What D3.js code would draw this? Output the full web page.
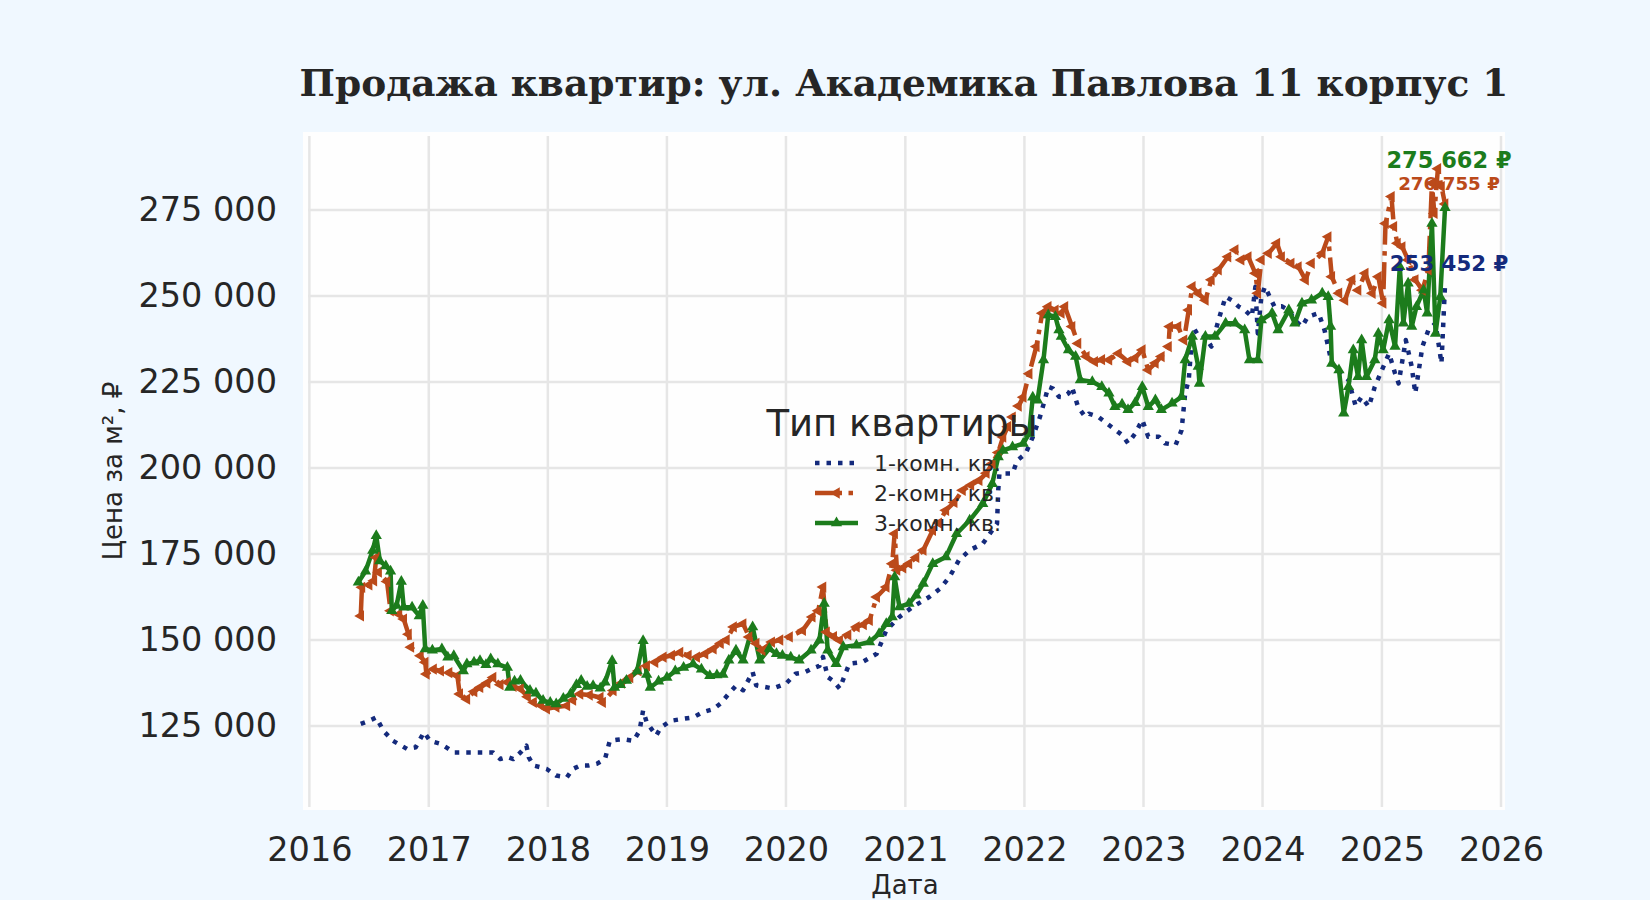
<!DOCTYPE html>
<html>
<head>
<meta charset="utf-8">
<script src="https://cdn.jsdelivr.net/npm/d3@7"></script>
<style>
  html, body { margin: 0; padding: 0; background: #f0f8ff; }
  svg { display: block; }
</style>
</head>
<body>
<svg id="chart" width="1650" height="900"></svg>
<script>
// series: [decimal year, price per m2]
const oneRoom = [
  [2016.43,125600],[2016.47,126100],[2016.53,127000],[2016.56,127500],[2016.62,123600],[2016.70,120700],
  [2016.76,119500],[2016.82,118300],[2016.89,118800],[2016.96,123200],[2017.01,120700],[2017.10,119800],
  [2017.16,118500],[2017.21,117300],[2017.32,117300],[2017.43,117300],[2017.54,117300],[2017.60,115400],
  [2017.66,116000],[2017.71,115400],[2017.77,117300],[2017.82,119300],[2017.84,115900],[2017.88,113500],
  [2017.94,113000],[2017.99,112500],[2018.07,110600],[2018.16,110100],[2018.21,112500],[2018.27,113500],
  [2018.34,113500],[2018.41,114000],[2018.48,115400],[2018.52,120700],[2018.58,121000],[2018.63,121200],
  [2018.72,120700],[2018.77,123600],[2018.80,129500],[2018.83,126100],[2018.91,122200],[2018.95,124600],
  [2019.03,126500],[2019.12,127000],[2019.22,127500],[2019.30,129000],[2019.39,129900],[2019.45,131500],
  [2019.52,134400],[2019.58,136700],[2019.64,135400],[2019.72,140700],[2019.75,136800],[2019.89,135900],
  [2020.00,137300],[2020.08,140200],[2020.15,140500],[2020.22,141700],[2020.28,142500],[2020.31,145100],
  [2020.35,139200],[2020.40,138000],[2020.45,135900],[2020.53,143100],[2020.64,143600],[2020.76,146000],
  [2020.84,152800],[2020.95,156700],[2021.06,159600],[2021.20,162500],[2021.29,164900],[2021.37,168300],
  [2021.45,173200],[2021.54,176100],[2021.65,178000],[2021.73,181900],[2021.77,183800],[2021.78,193500],
  [2021.79,198400],[2021.90,198400],[2021.94,202200],[2022.01,204200],[2022.07,209000],[2022.13,214800],
  [2022.17,219700],[2022.20,223600],[2022.24,223100],[2022.29,220700],[2022.32,220600],[2022.37,221700],
  [2022.40,223500],[2022.45,217800],[2022.51,214900],[2022.54,215800],[2022.62,214900],[2022.71,212500],
  [2022.82,209600],[2022.87,207200],[2022.93,210000],[2022.99,214000],[2023.04,209100],[2023.13,209100],
  [2023.18,207200],[2023.27,206700],[2023.32,211000],[2023.35,221700],[2023.38,225600],[2023.41,239100],
  [2023.46,240100],[2023.52,238000],[2023.57,235300],[2023.63,243000],[2023.69,249800],[2023.74,248800],
  [2023.80,246900],[2023.85,245900],[2023.91,244000],[2023.94,252700],[2023.96,239100],[2023.99,249800],
  [2024.02,252700],[2024.10,246900],[2024.16,247000],[2024.22,245900],[2024.27,243000],[2024.33,241100],
  [2024.38,244000],[2024.47,245000],[2024.52,240000],[2024.58,230400],[2024.65,228000],[2024.72,225600],
  [2024.78,218000],[2024.83,220700],[2024.89,217800],[2024.94,223600],[2025.00,228500],[2025.06,233300],
  [2025.11,227500],[2025.14,224600],[2025.20,237200],[2025.25,229500],[2025.28,221700],[2025.34,235300],
  [2025.39,240100],[2025.45,242100],[2025.50,230400],[2025.53,253452]
];

const twoRoom = [
  [2016.43,157000],[2016.44,165300],[2016.50,166000],[2016.54,167200],[2016.56,174000],[2016.58,169700],
  [2016.65,167000],[2016.68,158500],[2016.75,157500],[2016.79,156100],[2016.83,151700],[2016.85,147900],
  [2016.93,145400],[2016.97,143500],[2016.98,140100],[2017.04,141500],[2017.10,141000],[2017.17,140500],
  [2017.24,139600],[2017.26,134300],[2017.32,132800],[2017.38,135000],[2017.43,136200],[2017.49,137500],
  [2017.54,139100],[2017.60,137000],[2017.66,137700],[2017.71,136500],[2017.77,135800],[2017.83,133500],
  [2017.88,131900],[2017.94,131000],[2017.99,130000],[2018.07,130500],[2018.16,130900],[2018.21,132500],
  [2018.27,134300],[2018.35,134000],[2018.44,133300],[2018.46,131900],[2018.55,135300],[2018.62,137500],
  [2018.69,139100],[2018.76,141000],[2018.83,142500],[2018.90,143500],[2018.97,145000],[2019.04,145500],
  [2019.11,146400],[2019.18,145500],[2019.25,145000],[2019.32,146000],[2019.39,147400],[2019.45,149000],
  [2019.50,150000],[2019.56,153800],[2019.64,154700],[2019.69,150900],[2019.75,149000],[2019.80,147000],
  [2019.88,149400],[2019.95,150000],[2020.03,150900],[2020.14,152800],[2020.22,156700],[2020.27,158500],
  [2020.31,165400],[2020.34,152300],[2020.40,151000],[2020.45,149900],[2020.52,151500],[2020.59,153800],
  [2020.65,154500],[2020.70,155700],[2020.76,162500],[2020.84,165400],[2020.89,172200],[2020.91,180900],
  [2020.93,170300],[2020.98,171000],[2021.03,172200],[2021.09,174000],[2021.15,176100],[2021.23,181900],
  [2021.28,184000],[2021.34,187700],[2021.41,190000],[2021.48,193500],[2021.55,195000],[2021.62,196400],
  [2021.68,198500],[2021.73,201300],[2021.78,204500],[2021.82,209000],[2021.86,212000],[2021.90,214800],
  [2021.95,218000],[2021.99,220600],[2022.04,227400],[2022.10,235300],[2022.15,245000],[2022.20,246900],
  [2022.26,245900],[2022.31,245000],[2022.34,246900],[2022.40,241100],[2022.45,236200],[2022.52,232400],
  [2022.59,230900],[2022.65,231500],[2022.71,231400],[2022.79,233300],[2022.87,230900],[2022.93,232000],
  [2022.99,234300],[2023.04,228500],[2023.10,230500],[2023.15,232400],[2023.21,235300],[2023.22,241100],
  [2023.29,241100],[2023.34,237200],[2023.38,245900],[2023.41,252700],[2023.46,250800],[2023.52,248800],
  [2023.57,254700],[2023.63,257600],[2023.71,261400],[2023.77,263400],[2023.82,260500],[2023.88,261400],
  [2023.94,256600],[2023.96,250800],[2023.99,260500],[2024.05,262400],[2024.12,265300],[2024.16,261400],
  [2024.24,259500],[2024.30,258500],[2024.36,254700],[2024.41,259500],[2024.50,262400],[2024.55,267200],
  [2024.58,255600],[2024.64,250800],[2024.69,248800],[2024.75,254700],[2024.80,251700],[2024.86,256600],
  [2024.92,250800],[2024.97,255600],[2025.01,247900],[2025.03,271100],[2025.08,278900],[2025.10,270200],
  [2025.13,265300],[2025.17,264300],[2025.22,260500],[2025.28,254700],[2025.34,251700],[2025.39,257600],
  [2025.42,282800],[2025.44,274000],[2025.47,287000],[2025.50,281800],[2025.53,276755]
];

const threeRoom = [
  [2016.41,166800],[2016.47,170000],[2016.53,176000],[2016.56,180300],[2016.59,173000],[2016.64,171500],
  [2016.68,170000],[2016.69,158500],[2016.73,160000],[2016.77,167000],[2016.79,159500],[2016.86,159500],
  [2016.92,157000],[2016.95,160000],[2016.97,147400],[2017.03,147000],[2017.11,147400],[2017.16,145000],
  [2017.21,145400],[2017.29,141000],[2017.32,143000],[2017.38,143500],[2017.43,144000],[2017.48,142800],
  [2017.52,144500],[2017.58,143000],[2017.66,142000],[2017.68,136200],[2017.72,138000],[2017.77,138200],
  [2017.85,135300],[2017.90,134500],[2017.96,132400],[2018.02,131800],[2018.07,131400],[2018.13,133000],
  [2018.19,134300],[2018.24,137000],[2018.28,138200],[2018.33,136500],[2018.38,136700],[2018.44,136000],
  [2018.48,137700],[2018.54,144000],[2018.56,136200],[2018.61,137000],[2018.66,138200],[2018.75,141000],
  [2018.80,149800],[2018.83,140000],[2018.86,136200],[2018.93,138000],[2019.00,139100],[2019.07,141000],
  [2019.14,142000],[2019.22,143000],[2019.29,141500],[2019.36,139600],[2019.42,139800],[2019.47,140000],
  [2019.52,144100],[2019.58,147000],[2019.64,144100],[2019.72,153800],[2019.78,144100],[2019.86,147500],
  [2019.92,146000],[2019.97,145500],[2020.04,145000],[2020.11,144100],[2020.21,147000],[2020.28,149900],
  [2020.32,160600],[2020.35,147000],[2020.42,143100],[2020.48,148000],[2020.59,148500],[2020.70,149400],
  [2020.78,151800],[2020.84,154700],[2020.89,156700],[2020.91,168300],[2020.95,159600],[2021.03,160600],
  [2021.09,163000],[2021.15,166400],[2021.23,172200],[2021.34,174100],[2021.43,180900],[2021.54,184800],
  [2021.65,189600],[2021.73,195400],[2021.78,203200],[2021.82,205100],[2021.90,206100],[2021.99,207100],
  [2022.04,210000],[2022.07,220600],[2022.11,219700],[2022.16,231400],[2022.20,244500],[2022.26,244000],
  [2022.29,240100],[2022.31,238200],[2022.37,234300],[2022.43,232400],[2022.47,225600],[2022.57,225100],
  [2022.65,223600],[2022.71,221700],[2022.76,217800],[2022.82,218500],[2022.87,216900],[2022.93,219000],
  [2022.99,223600],[2023.04,217800],[2023.10,219800],[2023.15,216900],[2023.24,218800],[2023.32,220700],
  [2023.35,231400],[2023.41,238200],[2023.46,229500],[2023.47,224600],[2023.52,238200],[2023.60,238200],
  [2023.69,242100],[2023.77,242100],[2023.85,240100],[2023.89,231400],[2023.96,231400],[2023.99,243000],
  [2024.08,245000],[2024.13,240100],[2024.22,245900],[2024.27,242100],[2024.33,247900],[2024.41,248800],
  [2024.50,250800],[2024.55,249800],[2024.57,241100],[2024.58,230400],[2024.64,228500],[2024.68,215900],
  [2024.72,223600],[2024.76,234300],[2024.80,226500],[2024.83,237200],[2024.87,226500],[2024.94,231400],
  [2024.97,239100],[2025.01,234300],[2025.06,243000],[2025.11,235300],[2025.15,258500],[2025.18,242100],
  [2025.22,253700],[2025.25,241100],[2025.29,246900],[2025.35,251700],[2025.38,245000],[2025.42,271100],
  [2025.45,239100],[2025.49,249800],[2025.53,275662]
];

const seriesNames = ['1-комн. кв.', '2-комн. кв.', '3-комн. кв.'];
const seriesColors = ['#142a7c', '#bb4a1a', '#1c7c1c'];
const yTicks = [125000, 150000, 175000, 200000, 225000, 250000, 275000];
const xTicks = [2016, 2017, 2018, 2019, 2020, 2021, 2022, 2023, 2024, 2025, 2026];

const svg = d3.select('#chart');
const W = 1650, H = 900;

// decimal year -> Date
const toDate = y => {
  const yr = Math.floor(y);
  const a = new Date(yr, 0, 1), b = new Date(yr + 1, 0, 1);
  return new Date(+a + (y - yr) * (b - a));
};

svg.append('rect').attr('width', W).attr('height', H).attr('fill', '#f0f8ff');

// plot panel
svg.append('rect')
  .attr('x', 303).attr('y', 132)
  .attr('width', 1202).attr('height', 678)
  .attr('fill', '#fefefe');

const x = d3.scaleTime()
  .domain([new Date(2016, 0, 1), new Date(2026, 0, 1)])
  .range([309.4, 1501]);

const y = d3.scaleLinear()
  .domain([125000, 275000])
  .range([726, 210]);

const fmt = v => d3.format(',')(v).replace(/,/g, ' ');

// grid
const grid = svg.append('g');
grid.selectAll('.hg').data(yTicks).enter().append('line')
  .attr('x1', 308).attr('x2', 1501)
  .attr('y1', d => y(d)).attr('y2', d => y(d))
  .attr('stroke', '#e6e6e6').attr('stroke-width', 2.5);
grid.selectAll('.vg').data(xTicks).enter().append('line')
  .attr('x1', d => x(new Date(d, 0, 1))).attr('x2', d => x(new Date(d, 0, 1)))
  .attr('y1', 136).attr('y2', 807)
  .attr('stroke', '#e6e6e6').attr('stroke-width', 2.5);

// axes (labels only, no domain / tick marks)
const yAxis = svg.append('g')
  .attr('transform', 'translate(277,0)')
  .call(d3.axisLeft(y).tickValues(yTicks).tickFormat(fmt).tickSize(0).tickPadding(0));
const xAxis = svg.append('g')
  .attr('transform', 'translate(0,837)')
  .call(d3.axisBottom(x).tickValues(xTicks.map(d => new Date(d, 0, 1))).tickFormat(d3.timeFormat('%Y')).tickSize(0).tickPadding(0));
[yAxis, xAxis].forEach(g => {
  g.select('.domain').remove();
  g.selectAll('text')
    .attr('fill', '#262626')
    .style('font-family', '"DejaVu Sans", sans-serif')
    .style('font-size', '33.5px');
});
xAxis.selectAll('text').attr('dy', '0.71em');

// lines
const line = d3.line().x(d => x(toDate(d[0]))).y(d => y(d[1]));
const allSeries = [oneRoom, twoRoom, threeRoom];
const dashes = ['4.5 7', '27 6.5 4.5 6.5', null];

allSeries.forEach((data, i) => {
  svg.append('path')
    .datum(data)
    .attr('d', line)
    .attr('fill', 'none')
    .attr('stroke', seriesColors[i])
    .attr('stroke-width', 4.5)
    .attr('stroke-linejoin', 'round')
    .attr('stroke-dasharray', dashes[i]);
});

const tri = d3.symbol().type(d3.symbolTriangle).size(55);
// 2-комн: left-pointing triangles
svg.append('g').selectAll('path').data(twoRoom).enter().append('path')
  .attr('d', tri)
  .attr('transform', d => `translate(${x(toDate(d[0]))},${y(d[1])}) rotate(-90)`)
  .attr('fill', seriesColors[1]);
// 3-комн: up triangles
svg.append('g').selectAll('path').data(threeRoom).enter().append('path')
  .attr('d', tri)
  .attr('transform', d => `translate(${x(toDate(d[0]))},${y(d[1])})`)
  .attr('fill', seriesColors[2]);

// last value labels
const lastLabels = [
  { s: 2, size: 22.5, dy: -40 },
  { s: 1, size: 18.3, dy: -14 },
  { s: 0, size: 21.3, dy: -13 }
];
lastLabels.forEach(l => {
  const last = allSeries[l.s][allSeries[l.s].length - 1];
  svg.append('text')
    .attr('x', x(toDate(last[0])) + 4)
    .attr('y', y(last[1]) + l.dy)
    .attr('text-anchor', 'middle')
    .attr('fill', seriesColors[l.s])
    .style('font-family', '"DejaVu Sans", sans-serif')
    .style('font-weight', 'bold')
    .style('font-size', l.size + 'px')
    .text(fmt(last[1]) + ' ₽');
});

// title and axis labels
svg.append('text')
  .attr('x', 904).attr('y', 96)
  .attr('text-anchor', 'middle')
  .attr('fill', '#262626')
  .style('font-family', '"DejaVu Serif", serif')
  .style('font-weight', 'bold')
  .style('font-size', '37.5px')
  .text('Продажа квартир: ул. Академика Павлова 11 корпус 1');

svg.append('text')
  .attr('x', 905).attr('y', 894)
  .attr('text-anchor', 'middle')
  .attr('fill', '#262626')
  .style('font-family', '"DejaVu Sans", sans-serif')
  .style('font-size', '26px')
  .text('Дата');

svg.append('text')
  .attr('transform', 'translate(122,471) rotate(-90)')
  .attr('text-anchor', 'middle')
  .attr('fill', '#262626')
  .style('font-family', '"DejaVu Sans", sans-serif')
  .style('font-size', '26px')
  .text('Цена за м², ₽');

// legend
const legend = svg.append('g');
legend.append('text')
  .attr('x', 902).attr('y', 436)
  .attr('text-anchor', 'middle')
  .attr('fill', '#262626')
  .style('font-family', '"DejaVu Sans", sans-serif')
  .style('font-size', '37px')
  .text('Тип квартиры');

seriesNames.forEach((name, i) => {
  const ly = 463 + i * 30;
  legend.append('line')
    .attr('x1', 815).attr('x2', 858)
    .attr('y1', ly).attr('y2', ly)
    .attr('stroke', seriesColors[i])
    .attr('stroke-width', 4.5)
    .attr('stroke-dasharray', dashes[i]);
  if (i > 0) {
    legend.append('path')
      .attr('d', tri)
      .attr('transform', `translate(836.5,${ly})` + (i === 1 ? ' rotate(-90)' : ''))
      .attr('fill', seriesColors[i]);
  }
  legend.append('text')
    .attr('x', 874).attr('y', ly)
    .attr('dy', '0.35em')
    .attr('fill', '#262626')
    .style('font-family', '"DejaVu Sans", sans-serif')
    .style('font-size', '22px')
    .text(name);
});
</script>
</body>
</html>
